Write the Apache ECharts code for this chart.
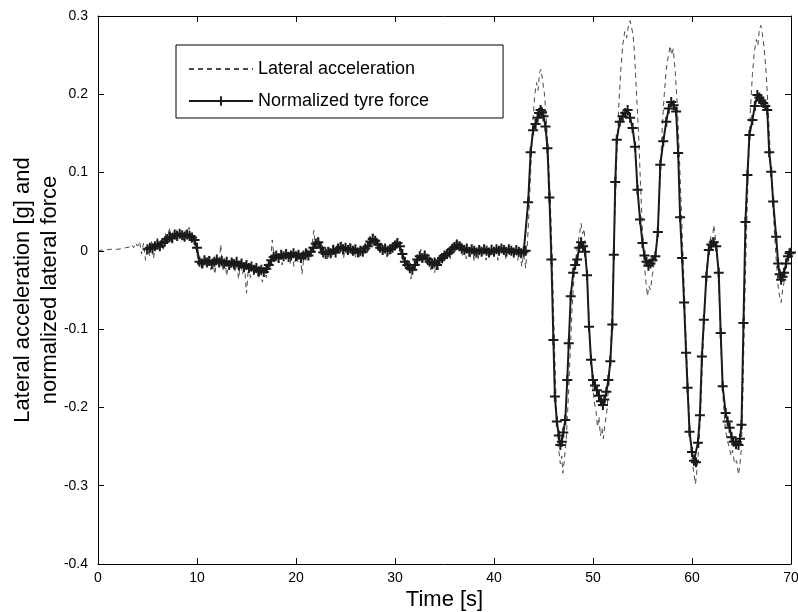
<!DOCTYPE html>
<html>
<head>
<meta charset="utf-8">
<script src="https://cdn.jsdelivr.net/npm/echarts@6/dist/echarts.min.js"></script>
<style>html,body{margin:0;padding:0;background:#fff;}#chart{width:798px;height:612px;}</style>
</head>
<body>
<div id="chart"></div>
<script>
// ---- Data ----
const xTicks = [0, 10, 20, 30, 40, 50, 60, 70];
const yTicks = [-0.4, -0.3, -0.2, -0.1, 0, 0.1, 0.2, 0.3];
const seriesNames = ['Lateral acceleration', 'Normalized tyre force'];

// Lateral acceleration, quiet part: samples every 0.2 s from t = 0
const accStart = 0, accStep = 0.2;
const accFlat = [
 0, 0, 0.001, 0, 0.001, 0.001, 0.002, 0.001, 0.002, 0.003,
 0.002, 0.004, 0.003, 0.005, 0.004, 0.006, 0.005, 0.008, 0.004, 0.010,
 0.006, 0.012, -0.004, 0.010, -0.012, 0.008, -0.006, 0.012, -0.010, 0.004,
 0.016, -0.002, 0.014, 0.002, 0.022, 0.010, 0.030, 0.012, 0.026, 0.016,
 0.028, 0.014, 0.024, 0.012, 0.026, 0.016, 0.030, 0.010, 0.020, 0.006,
 -0.004, -0.018, -0.010, -0.022, -0.008, -0.020, -0.006, -0.024, -0.012, -0.030,
 -0.010, -0.020, 0.008, -0.026, -0.012, -0.032, -0.014, -0.022, -0.010, -0.028,
 -0.016, -0.036, -0.014, -0.030, -0.018, -0.054, -0.020, -0.034, -0.018, -0.030,
 -0.022, -0.036, -0.024, -0.040, -0.026, -0.034, -0.016, -0.020, 0.014, -0.010,
 -0.002, -0.014, -0.004, -0.018, -0.002, -0.012, 0.000, -0.016, -0.004, -0.020,
 -0.006, -0.014, -0.002, -0.030, -0.008, -0.012, 0.002, -0.008, 0.006, 0.026,
 0.004, 0.020, 0.006, 0.012, -0.006, 0.004, -0.010, 0.006, -0.008, 0.008,
 -0.004, 0.010, -0.002, 0.012, -0.010, 0.008, -0.006, 0.010, -0.004, 0.006,
 -0.008, 0.004, -0.010, 0.006, -0.006, 0.008, 0.004, 0.018, 0.008, 0.022,
 0.010, 0.016, 0.000, 0.010, -0.006, 0.008, -0.008, 0.006, -0.004, 0.010,
 0.002, 0.016, 0.004, 0.006, -0.012, -0.006, -0.024, -0.014, -0.036, -0.018,
 -0.026, -0.006, -0.014, 0.002, -0.016, 0.000, -0.018, -0.008, -0.024, -0.010,
 -0.028, -0.012, -0.024, -0.004, -0.016, 0.000, -0.012, 0.004, -0.010, 0.008,
 -0.002, 0.014, 0.004, 0.012, -0.006, 0.008, -0.010, 0.006, -0.008, 0.004,
 -0.014, 0.002, -0.010, 0.006, -0.008, 0.004, -0.012, 0.002, -0.006, 0.008,
 -0.008, 0.004, -0.012, 0.006, -0.004, 0.008, -0.010, 0.004, -0.006, 0.006,
 -0.008, 0.002, -0.012, 0.004, -0.020
];
// Lateral acceleration, manoeuvre part (time, value)
const accOscT = [43.0,43.2,43.35,43.5,43.7,43.9,44.1,44.3,44.45,44.6,44.75,44.9,45.1,45.3,45.5,45.7,45.9,46.1,46.3,46.5,46.7,46.85,46.95,47.1,47.3,47.5,47.7,47.9,48.1,48.35,48.6,48.8,48.95,49.1,49.3,49.5,49.7,49.9,50.1,50.3,50.45,50.6,50.75,50.9,51.05,51.2,51.4,51.6,51.8,52.0,52.2,52.4,52.6,52.8,53.0,53.2,53.4,53.6,53.75,53.9,54.05,54.2,54.4,54.6,54.8,55.0,55.2,55.35,55.5,55.65,55.8,56.0,56.2,56.4,56.6,56.8,57.0,57.2,57.4,57.6,57.8,57.95,58.1,58.3,58.5,58.7,58.9,59.1,59.3,59.5,59.7,59.9,60.05,60.2,60.35,60.5,60.7,60.9,61.1,61.3,61.5,61.7,61.9,62.05,62.2,62.35,62.55,62.75,62.95,63.15,63.35,63.55,63.75,63.95,64.1,64.3,64.5,64.7,64.85,65.0,65.15,65.3,65.5,65.7,65.9,66.1,66.3,66.5,66.65,66.8,66.95,67.1,67.3,67.5,67.7,67.9,68.1,68.3,68.5,68.7,68.85,69.0,69.15,69.3,69.5,69.7,69.85,70.0];
const accOscV = [-0.004,-0.022,0.004,0.040,0.100,0.160,0.198,0.215,0.205,0.228,0.232,0.218,0.200,0.165,0.120,0.060,-0.020,-0.120,-0.200,-0.250,-0.272,-0.262,-0.284,-0.268,-0.240,-0.190,-0.130,-0.070,-0.030,0.000,0.018,0.035,0.022,0.028,-0.010,-0.060,-0.120,-0.160,-0.190,-0.205,-0.225,-0.212,-0.236,-0.226,-0.240,-0.222,-0.205,-0.170,-0.120,-0.050,0.040,0.120,0.185,0.230,0.262,0.280,0.272,0.290,0.294,0.285,0.276,0.250,0.200,0.150,0.085,0.025,-0.020,-0.040,-0.058,-0.045,-0.050,-0.030,-0.015,0.002,0.040,0.100,0.160,0.200,0.232,0.248,0.262,0.250,0.258,0.230,0.190,0.130,0.060,-0.010,-0.080,-0.145,-0.205,-0.255,-0.272,-0.285,-0.298,-0.280,-0.250,-0.195,-0.130,-0.070,-0.020,0.005,0.018,0.012,0.033,0.018,-0.010,-0.060,-0.130,-0.190,-0.225,-0.242,-0.250,-0.262,-0.255,-0.272,-0.268,-0.286,-0.272,-0.250,-0.180,-0.080,0.020,0.110,0.180,0.225,0.255,0.270,0.262,0.282,0.288,0.278,0.258,0.225,0.180,0.125,0.075,0.030,-0.010,-0.045,-0.058,-0.066,-0.050,-0.040,-0.020,-0.008,-0.010,-0.002];

// Normalized tyre force, quiet part: samples every 0.25 s from t = 5
const tyreStart = 5, tyreStep = 0.25;
const tyreFlat = [
 0.002, 0.004, 0.003, 0.006, 0.008, 0.006, 0.010, 0.012,
 0.015, 0.018, 0.016, 0.021, 0.019, 0.022, 0.020, 0.018,
 0.021, 0.019, 0.017, 0.014, 0.004, -0.014, -0.016, -0.012,
 -0.015, -0.013, -0.017, -0.014, -0.011, -0.015, -0.013, -0.016,
 -0.014, -0.018, -0.015, -0.017, -0.014, -0.019, -0.016, -0.021,
 -0.018, -0.022, -0.020, -0.024, -0.022, -0.026, -0.024, -0.027,
 -0.023, -0.018, -0.012, -0.008, -0.006, -0.009, -0.005, -0.007,
 -0.004, -0.008, -0.006, -0.003, -0.007, -0.005, -0.009, -0.006,
 -0.003, -0.006, -0.001, 0.004, 0.009, 0.011, 0.004, -0.002,
 -0.004, -0.001, -0.003, 0.001, -0.002, 0.003, 0.005, 0.002,
 0.004, 0.001, 0.003, 0.000, 0.002, -0.002, 0.000, -0.001,
 0.003, 0.006, 0.012, 0.015, 0.013, 0.008, 0.004, 0.001,
 0.003, 0.000, 0.002, 0.004, 0.007, 0.010, 0.006, -0.004,
 -0.014, -0.018, -0.022, -0.024, -0.018, -0.011, -0.007, -0.009,
 -0.006, -0.010, -0.014, -0.017, -0.015, -0.018, -0.012, -0.009,
 -0.006, -0.004, -0.002, 0.002, 0.005, 0.008, 0.006, 0.003,
 0.001, 0.003, -0.001, 0.002, 0.000, -0.002, 0.001, -0.001,
 0.002, 0.000, -0.002, 0.001, -0.001, 0.002, 0.000, 0.003,
 0.001, -0.001, 0.002, 0.000, -0.002, 0.001, -0.001, -0.003,
 -0.001
];
// Normalized tyre force, manoeuvre part (time, value)
const tyreOscT = [43.2,43.45,43.7,43.95,44.2,44.4,44.55,44.7,44.85,45.0,45.2,45.4,45.6,45.8,46.0,46.15,46.35,46.55,46.7,46.85,47.0,47.2,47.4,47.55,47.75,48.0,48.2,48.4,48.6,48.8,49.0,49.2,49.4,49.6,49.8,50.0,50.2,50.4,50.6,50.8,51.0,51.15,51.35,51.55,51.75,51.95,52.1,52.25,52.4,52.7,53.0,53.25,53.5,53.75,54.0,54.25,54.5,54.75,55.0,55.2,55.4,55.6,55.8,56.0,56.3,56.55,56.8,57.1,57.4,57.65,57.9,58.15,58.4,58.6,58.8,59.0,59.2,59.4,59.55,59.75,60.0,60.2,60.4,60.6,60.8,61.0,61.2,61.45,61.7,61.95,62.2,62.45,62.7,62.9,63.1,63.4,63.6,63.8,64.0,64.2,64.45,64.7,64.85,65.0,65.2,65.4,65.6,65.8,66.1,66.35,66.6,66.8,67.0,67.2,67.4,67.6,67.8,68.0,68.2,68.5,68.7,68.85,69.0,69.15,69.3,69.5,69.7,69.85,70.0];
const tyreOscV = [0.000,0.062,0.126,0.154,0.162,0.170,0.176,0.180,0.177,0.172,0.159,0.131,0.068,-0.011,-0.114,-0.186,-0.218,-0.236,-0.248,-0.244,-0.232,-0.216,-0.165,-0.118,-0.058,-0.028,-0.018,-0.011,0.004,0.011,0.006,-0.001,-0.031,-0.097,-0.139,-0.165,-0.172,-0.178,-0.185,-0.192,-0.197,-0.190,-0.180,-0.165,-0.141,-0.094,-0.005,0.088,0.142,0.165,0.172,0.176,0.180,0.170,0.157,0.133,0.078,0.040,0.010,-0.006,-0.014,-0.019,-0.016,-0.012,-0.007,0.024,0.110,0.140,0.165,0.182,0.190,0.186,0.178,0.125,0.043,-0.009,-0.066,-0.130,-0.175,-0.231,-0.257,-0.268,-0.270,-0.245,-0.210,-0.135,-0.088,-0.033,0.001,0.008,0.011,0.006,-0.028,-0.105,-0.173,-0.207,-0.218,-0.226,-0.238,-0.244,-0.247,-0.248,-0.240,-0.222,-0.092,0.037,0.097,0.148,0.167,0.185,0.199,0.196,0.192,0.189,0.185,0.180,0.126,0.101,0.063,0.018,-0.016,-0.030,-0.037,-0.033,-0.028,-0.016,-0.007,-0.003,-0.002];

// ---- Build series data ----
const accData = accFlat.map((v, i) => [+(accStart + i * accStep).toFixed(3), v])
  .concat(accOscT.map((t, i) => [t, accOscV[i]]));
const tyreData = tyreFlat.map((v, i) => [+(tyreStart + i * tyreStep).toFixed(3), v])
  .concat(tyreOscT.map((t, i) => [t, tyreOscV[i]]));

const FONT = "Arial, 'Liberation Sans', sans-serif";
const PLUS = 'path://M4,0h2v4h4v2h-4v4h-2v-4h-4v-2h4z';
const fmt = v => String(Math.round(v * 10) / 10);

const chart = echarts.init(document.getElementById('chart'), null, {renderer: 'canvas'});
const axisCommon = {
  type: 'value',
  axisLine: {show: true, onZero: false, lineStyle: {color: '#000', width: 1}},
  axisTick: {show: true, inside: true, length: 6, lineStyle: {color: '#000'}},
  splitLine: {show: false}
};
chart.setOption({
  animation: false,
  backgroundColor: '#fff',
  textStyle: {fontFamily: FONT},
  grid: {left: 98, right: 7, top: 16, bottom: 48, containLabel: false, outerBoundsMode: 'none'},
  legend: {
    left: 176, top: 45, orient: 'vertical',
    data: [
      {name: seriesNames[0], itemStyle: {opacity: 0}},
      {name: seriesNames[1]}
    ],
    itemWidth: 64, itemHeight: 12, itemGap: 14,
    padding: [15, 74, 8, 12],
    backgroundColor: '#fff',
    borderColor: '#000', borderWidth: 1,
    textStyle: {fontSize: 18, color: '#000', fontFamily: FONT}
  },
  xAxis: [
    Object.assign({}, axisCommon, {
      position: 'bottom', min: xTicks[0], max: xTicks[xTicks.length - 1], interval: 10,
      axisLabel: {color: '#000', fontSize: 14, margin: 7, fontFamily: FONT},
      name: 'Time [s]', nameLocation: 'middle', nameGap: 25, nameMoveOverlap: false,
      nameTextStyle: {fontSize: 22, color: '#000', fontFamily: FONT}
    }),
    Object.assign({}, axisCommon, {
      position: 'top', min: xTicks[0], max: xTicks[xTicks.length - 1], interval: 10,
      axisLabel: {show: false}
    })
  ],
  yAxis: [
    Object.assign({}, axisCommon, {
      position: 'left', min: yTicks[0], max: yTicks[yTicks.length - 1], interval: 0.1,
      axisLabel: {color: '#000', fontSize: 14, margin: 10, formatter: fmt, fontFamily: FONT},
      name: 'Lateral acceleration [g] and\nnormalized lateral force',
      nameLocation: 'middle', nameGap: 35, nameMoveOverlap: false,
      nameTextStyle: {fontSize: 22, color: '#000', lineHeight: 27, fontFamily: FONT}
    }),
    Object.assign({}, axisCommon, {
      position: 'right', min: yTicks[0], max: yTicks[yTicks.length - 1], interval: 0.1,
      axisLabel: {show: false}
    })
  ],
  series: [
    {
      name: seriesNames[0], type: 'line', data: accData,
      showSymbol: false, symbol: 'none',
      lineStyle: {color: '#4a4a4a', width: 1, type: [5, 4]},
      itemStyle: {color: '#4a4a4a'},
      z: 2
    },
    {
      name: seriesNames[1], type: 'line', data: tyreData,
      symbol: PLUS, symbolSize: 10, showSymbol: true, showAllSymbol: true,
      lineStyle: {color: '#1a1a1a', width: 2},
      itemStyle: {color: '#1a1a1a'},
      z: 3
    }
  ]
});
</script>
</body>
</html>
